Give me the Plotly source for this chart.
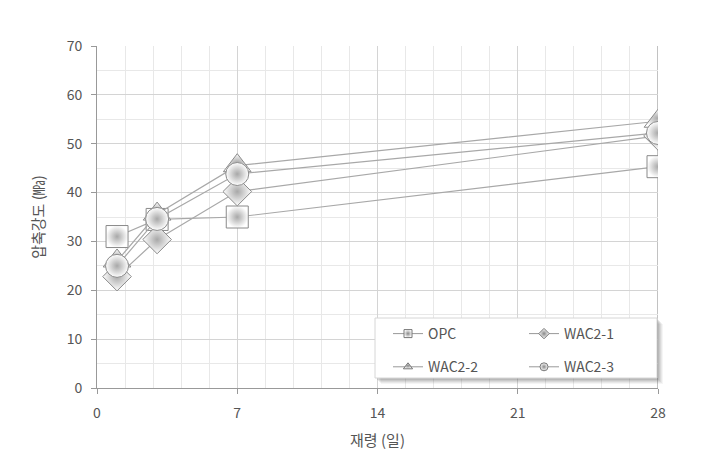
import plotly.graph_objects as go

days = [1, 3, 7, 28]
series_names = ["OPC", "WAC2-1", "WAC2-2", "WAC2-3"]
opc = [31.0, 34.5, 35.0, 45.3]
wac2_1 = [22.8, 30.4, 40.2, 51.6]
wac2_2 = [26.0, 35.6, 45.5, 54.6]
wac2_3 = [25.0, 34.6, 43.8, 52.2]
x_ticks = [0, 7, 14, 21, 28]
y_ticks = [0, 10, 20, 30, 40, 50, 60, 70]

symbols = ["square", "diamond", "triangle-up", "circle"]
sizes = [22, 22, 24, 23]
values = [opc, wac2_1, wac2_2, wac2_3]
legend_slot = ["legend", "legend2", "legend", "legend2"]

fig = go.Figure()
for name, vals, sym, sz in zip(series_names, values, symbols, sizes):
    fig.add_trace(go.Scatter(
        x=days, y=vals, name=name, mode="lines+markers", showlegend=False,
        line=dict(color="#a8a8a8", width=1.2),
        marker=dict(symbol=sym, size=sz, color="#ffffff",
                    gradient=dict(type="radial", color="#a8a8a8"),
                    line=dict(color="#8a8a8a", width=1)),
    ))

# legend entries (small symbols, as in the reference legend)
for i, name in enumerate(series_names):
    fig.add_trace(go.Scatter(
        x=[None], y=[None], name=name, mode="lines+markers",
        legend=legend_slot[i], legendgroup=name,
        line=dict(color="#999999", width=1),
        marker=dict(symbol=symbols[i], size=8, color="#ffffff",
                    gradient=dict(type="radial", color="#888888"),
                    line=dict(color="#777777", width=1)),
    ))

def px_x(p):
    return (p - 97) / 561.0

def px_y(p):
    return (388 - p) / 342.0

# legend frame with a soft shadow
for off, alpha in [(6, 0.06), (5, 0.08), (4, 0.10), (3, 0.12), (2, 0.14)]:
    fig.add_shape(type="rect", xref="paper", yref="paper",
                  x0=px_x(375 + off), x1=px_x(657 + off),
                  y0=px_y(378 + off), y1=px_y(318 + off),
                  line=dict(width=0), fillcolor=f"rgba(90,90,90,{alpha})", layer="above")
fig.add_shape(type="rect", xref="paper", yref="paper",
              x0=px_x(375), x1=px_x(657), y0=px_y(378), y1=px_y(318),
              line=dict(color="#d6d6d6", width=1), fillcolor="white", layer="above")

font_family = "Noto Sans CJK KR, Noto Sans, sans-serif"
leg_common = dict(orientation="v", yanchor="top", xanchor="left",
                  bgcolor="rgba(0,0,0,0)", borderwidth=0,
                  font=dict(size=14, color="#555555"),
                  itemwidth=30, tracegroupgap=12)
fig.update_layout(
    width=708, height=463,
    margin=dict(l=89, r=58, t=38, b=83),
    paper_bgcolor="white", plot_bgcolor="white",
    font=dict(family=font_family, color="#555555", size=14),
    showlegend=True,
    legend=dict(x=px_x(388), y=px_y(318), **leg_common),
    legend2=dict(x=px_x(524), y=px_y(318), **leg_common),
    xaxis=dict(
        range=[0, 28], tickvals=x_ticks, ticks="outside", ticklen=5,
        tickcolor="#999999", showline=True, linecolor="#999999",
        showgrid=True, gridcolor="#d4d4d4", automargin=False,
        minor=dict(dtick=1.4, showgrid=True, gridcolor="#e8e8e8"),
        zeroline=False, tickfont=dict(size=14, color="#555555"),
        ticklabelstandoff=7,
        title=dict(text="재령 (일)", font=dict(size=15, color="#555555"), standoff=14),
    ),
    yaxis=dict(
        range=[0, 70], tickvals=y_ticks, ticks="outside", ticklen=5,
        tickcolor="#999999", showline=True, linecolor="#999999",
        showgrid=True, gridcolor="#d4d4d4", automargin=False,
        minor=dict(dtick=5, showgrid=True, gridcolor="#e8e8e8"),
        zeroline=False, tickfont=dict(size=14, color="#555555"),
        ticklabelstandoff=6,
        title=dict(text="압축강도 (㎫)", font=dict(size=15, color="#555555"), standoff=18),
    ),
)
fig.add_shape(type="line", xref="x", yref="paper", x0=28, x1=28, y0=0, y1=1,
              line=dict(color="#999999", width=1.2), layer="below")

fig.write_html("out.html")
